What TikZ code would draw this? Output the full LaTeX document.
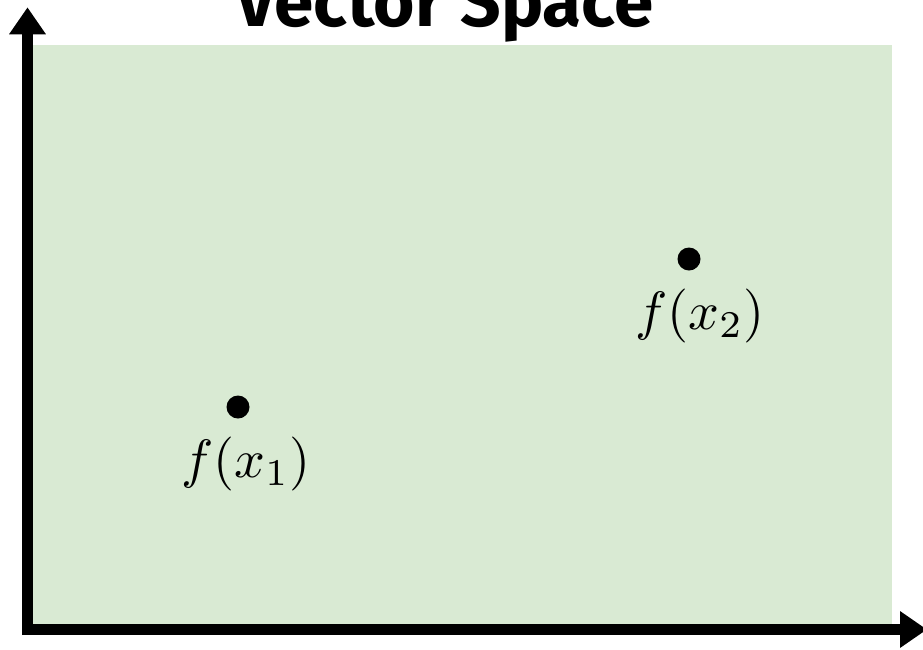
\documentclass[tikz,border=0pt]{standalone}
\usepackage{graphicx}
\usepackage{fontspec}
\newfontfamily\titlefont{Fira Sans}
\usetikzlibrary{arrows.meta}
\definecolor{spacegreen}{HTML}{D9EAD3}
\newcommand{\biglbl}[1]{\scalebox{5.4}{$#1$}}
\tikzset{
  axis/.style={line width=11pt, -{Triangle[width=35pt,length=27pt]}},
  pt/.style={circle, fill=black, inner sep=0pt, minimum size=23pt},
  lbl/.style={anchor=base, inner sep=0pt},
  ttl/.style={anchor=base, inner sep=0pt, font=\titlefont\bfseries\fontsize{71}{78}\selectfont}
}
\begin{document}
\begin{tikzpicture}[x=1pt,y=-1pt]
\useasboundingbox (0,0) rectangle (923,649);
\fill[spacegreen] (33,45) rectangle (892,624);
\coordinate (o) at (27.5,635);
\coordinate (ytip) at (27.5,7.3);
\coordinate (xs) at (22,629.5);
\coordinate (xtip) at (927,629.5);
\draw[axis] (o) -- (ytip);
\draw[axis] (xs) -- (xtip);
\node[ttl] (title) at (444.5,26.7) {Vector Space};
\node[pt] (p1) at (238,407) {};
\node[pt] (p2) at (689,259) {};
\node[lbl] (l1) at (246,477) {\biglbl{f(x_1)}};
\node[lbl] (l2) at (700,329) {\biglbl{f(x_2)}};
\end{tikzpicture}
\end{document}
